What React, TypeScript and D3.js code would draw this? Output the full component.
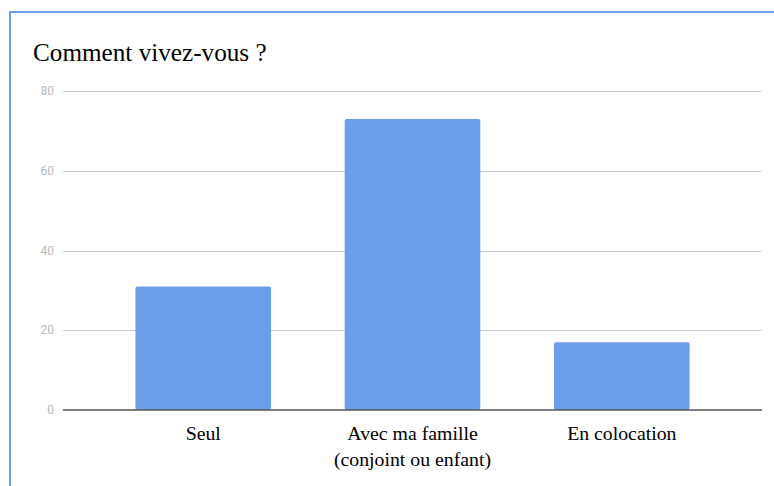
import * as d3 from "d3";

const categories = ["Seul", "Avec ma famille\n(conjoint ou enfant)", "En colocation"];
const values = [31, 73, 17];
const yTicks = [0, 20, 40, 60, 80];
const title = "Comment vivez-vous ?";

const serif = { fontFamily: "Liberation Serif" };
const sans = { fontFamily: "Roboto" };

export default function App() {
  const width = 774;
  const height = 486;
  const plot = { left: 63, right: 762, top: 91, bottom: 410 };

  const x = d3
    .scaleBand()
    .domain(categories)
    .range([plot.left, plot.right])
    .paddingInner(0.352)
    .paddingOuter(0.346);

  const y = d3.scaleLinear().domain([0, 80]).range([plot.bottom, plot.top]);

  return (
    <svg
      width={width}
      height={height}
      style={{ position: "absolute", left: 0, top: 0, background: "#fff" }}
    >
      {/* frame edges */}
      <line x1={10} y1={12} x2={width} y2={12} stroke="#6d9eeb" strokeWidth={2} />
      <line x1={10} y1={11} x2={10} y2={height} stroke="#6d9eeb" strokeWidth={2} />

      <text x={33} y={61} style={serif} fontSize={25.2} fill="#000">
        {title}
      </text>

      {yTicks.map((t) => (
        <g key={t}>
          {t > 0 && (
            <line
              x1={plot.left}
              x2={plot.right}
              y1={Math.round(y(t)) + 0.5}
              y2={Math.round(y(t)) + 0.5}
              stroke="#cccccc"
              strokeWidth={1}
            />
          )}
          <text
            x={54}
            y={y(t)}
            dy="0.35em"
            textAnchor="end"
            style={sans}
            fontSize={12}
            fill="#b7b7b7"
          >
            {t}
          </text>
        </g>
      ))}

      {categories.map((c, i) => (
        <rect
          key={c}
          x={x(c)!}
          y={y(values[i])}
          width={x.bandwidth()}
          height={plot.bottom - y(values[i])}
          rx={2}
          fill="#6d9eeb"
        />
      ))}

      <line x1={plot.left} x2={plot.right} y1={plot.bottom} y2={plot.bottom} stroke="#555" strokeWidth={1.5} />

      {categories.map((c) => (
        <text
          key={c}
          x={x(c)! + x.bandwidth() / 2}
          y={440}
          textAnchor="middle"
          style={serif}
          fontSize={19.8}
          fill="#000"
        >
          {c.split("\n").map((line, j) => (
            <tspan key={j} x={x(c)! + x.bandwidth() / 2} dy={j === 0 ? 0 : 26}>
              {line}
            </tspan>
          ))}
        </text>
      ))}
    </svg>
  );
}
